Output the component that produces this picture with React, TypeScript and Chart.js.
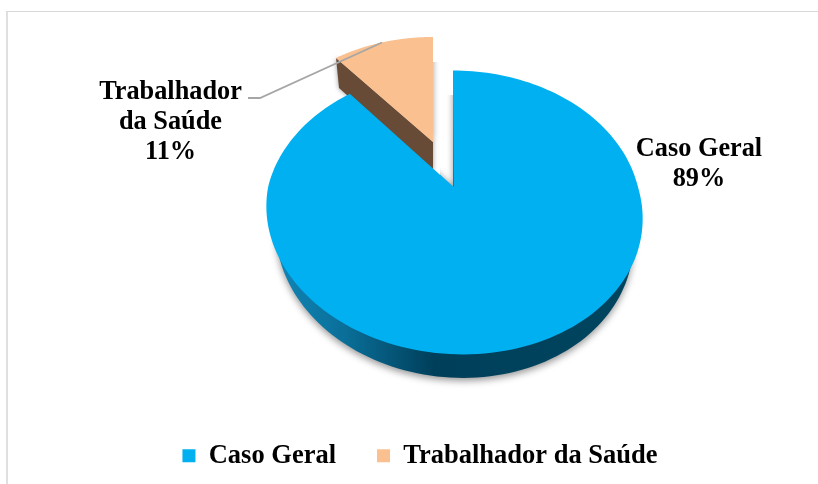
import React, { useEffect, useRef } from "react";
import { Chart, registerables } from "chart.js";

Chart.register(...registerables);

const categories = ["Caso Geral", "Trabalhador da Saúde"];
const shares = [89, 11];
const sliceColors = ["#00b0f0", "#fbc08f"];
const labelLines = [["Caso Geral"], ["Trabalhador", "da Saúde"]];

const FONT = '"Liberation Serif", serif';

type View = { x0: number; y0: number; a: number; b: number; k: number; s: number };

// Perspective views of the unit disc: the top faces and the lower rim.
const views: View[] = [
  { x0: 453, y0: 186.5, a: 184.8, b: 137.2, k: -0.183, s: 8 },
  { x0: 433, y0: 142, a: 175, b: 125.5, k: -0.195, s: 0 },
];
const lowerRim: View = { x0: 453, y0: 210, a: 175.5, b: 137.2, k: -0.183, s: 8 };
const labelAnchors = [
  { x: 699, y: 149 },
  { x: 170.5, y: 92 },
];

const project = (v: View, u: number, w: number) => {
  const d = 1 + v.k * w;
  return [v.x0 + (v.a * u + v.s * Math.max(w, 0)) / d, v.y0 + (v.b * w) / d];
};

const tracePie = (ctx: CanvasRenderingContext2D, v: View, start: number, end: number) => {
  ctx.beginPath();
  const [ax, ay] = project(v, 0, 0);
  ctx.moveTo(ax, ay);
  const steps = 180;
  for (let i = 0; i <= steps; i++) {
    const t = start + ((end - start) * i) / steps;
    const [x, y] = project(v, Math.cos(t), Math.sin(t));
    ctx.lineTo(x, y);
  }
  ctx.closePath();
};

const piePlugin = {
  id: "perspectivePie",
  beforeDraw(chart: any) {
    const ctx: CanvasRenderingContext2D = chart.ctx;
    ctx.save();
    ctx.fillStyle = "#ffffff";
    ctx.fillRect(0, 0, 818, 484);
    ctx.fillStyle = "#e0e0e0";
    ctx.fillRect(6, 11, 2, 473);
    ctx.fillStyle = "#d9d9d9";
    ctx.fillRect(6, 11, 812, 1);
    ctx.restore();
  },
  beforeDatasetsDraw(chart: any) {
    const ctx: CanvasRenderingContext2D = chart.ctx;
    const arcs = chart.getDatasetMeta(0).data;
    const a0 = arcs[0];
    const a1 = arcs[1];

    // Peach slice: wall along its left edge, then its top face.
    const pv = views[1];
    const [px, py] = project(pv, 0, 0);
    const [qx, qy] = project(pv, Math.cos(a1.startAngle), Math.sin(a1.startAngle));
    ctx.save();
    ctx.shadowColor = "rgba(0,0,0,0.4)";
    ctx.shadowBlur = 5;
    ctx.beginPath();
    ctx.moveTo(qx, qy);
    ctx.lineTo(px, py);
    ctx.lineTo(px, py + 30);
    ctx.lineTo(qx + 3, qy + 30);
    ctx.closePath();
    ctx.fillStyle = "#674b37";
    ctx.fill();
    ctx.restore();

    ctx.save();
    ctx.beginPath();
    ctx.rect(433, 62, 12, 108);
    ctx.clip();
    ctx.shadowColor = "rgba(0,0,0,0.4)";
    ctx.shadowBlur = 6;
    tracePie(ctx, pv, a1.startAngle, a1.endAngle);
    ctx.fillStyle = sliceColors[1];
    ctx.fill();
    ctx.restore();
    tracePie(ctx, pv, a1.startAngle, a1.endAngle);
    ctx.fillStyle = sliceColors[1];
    ctx.fill();

    // Blue slice: lower rim with horizontal shading, then its top face.
    const g = ctx.createLinearGradient(272, 0, 632, 0);
    g.addColorStop(0, "#1186b8");
    g.addColorStop(0.2, "#0a6f99");
    g.addColorStop(0.45, "#003f5a");
    g.addColorStop(1, "#00455f");
    ctx.save();
    ctx.shadowColor = "rgba(0,0,0,0.4)";
    ctx.shadowBlur = 7;
    ctx.shadowOffsetY = 3;
    ctx.beginPath();
    ctx.rect(240, 230, 430, 170);
    ctx.clip();
    tracePie(ctx, lowerRim, a0.startAngle, a0.endAngle);
    ctx.fillStyle = g;
    ctx.fill();
    ctx.restore();

    const bv = views[0];
    ctx.save();
    ctx.beginPath();
    ctx.rect(440, 95, 13, 92);
    ctx.clip();
    ctx.shadowColor = "rgba(0,0,0,0.4)";
    ctx.shadowBlur = 6;
    tracePie(ctx, bv, a0.startAngle, a0.endAngle);
    ctx.fillStyle = sliceColors[0];
    ctx.fill();
    ctx.restore();
    tracePie(ctx, bv, a0.startAngle, a0.endAngle);
    ctx.fillStyle = sliceColors[0];
    ctx.fill();

    // Thin dark rim on the straight edge of the blue slice.
    const [bx, by] = project(bv, 0, 0);
    const edge = ctx.createLinearGradient(0, 90, 0, by);
    edge.addColorStop(0, "rgba(30,110,150,0)");
    edge.addColorStop(1, "rgba(30,110,150,0.9)");
    ctx.strokeStyle = edge;
    ctx.lineWidth = 1;
    ctx.beginPath();
    ctx.moveTo(bx + 0.5, 90);
    ctx.lineTo(bx + 0.5, by);
    ctx.stroke();
    return false;
  },
  afterDraw(chart: any) {
    const ctx: CanvasRenderingContext2D = chart.ctx;
    ctx.save();
    // Leader line of the small slice.
    ctx.strokeStyle = "#a6a6a6";
    ctx.lineWidth = 1.8;
    ctx.beginPath();
    ctx.moveTo(248, 98);
    ctx.lineTo(260, 98);
    ctx.lineTo(382, 42.5);
    ctx.stroke();
    // Data labels.
    ctx.fillStyle = "#000000";
    ctx.font = `bold 26.3px ${FONT}`;
    ctx.textAlign = "center";
    ctx.textBaseline = "middle";
    labelLines.forEach((lines, i) => {
      const rows = [...lines, `${shares[i]}%`];
      rows.forEach((row, r) => {
        ctx.fillText(row, labelAnchors[i].x, labelAnchors[i].y + r * 30);
      });
    });
    ctx.restore();
  },
};

export default function App() {
  const ref = useRef<HTMLCanvasElement>(null);
  useEffect(() => {
    const chart = new Chart(ref.current!, {
      type: "pie",
      data: {
        labels: categories,
        datasets: [{ data: shares, backgroundColor: sliceColors, borderWidth: 0 }],
      },
      options: {
        responsive: false,
        animation: false,
        layout: { padding: { left: 22, bottom: 5 } },
        plugins: {
          tooltip: { enabled: false },
          legend: {
            position: "bottom",
            labels: {
              boxWidth: 13,
              boxHeight: 13,
              padding: 41,
              color: "#000000",
              font: { family: FONT, size: 26.5, weight: "bold" },
            },
          },
        },
      },
      plugins: [piePlugin as any],
    });
    return () => chart.destroy();
  }, []);
  return (
    <div style={{ position: "fixed", left: 0, top: 0, width: 818, height: 484 }}>
      <canvas ref={ref} width={818} height={484} style={{ display: "block" }} />
    </div>
  );
}
